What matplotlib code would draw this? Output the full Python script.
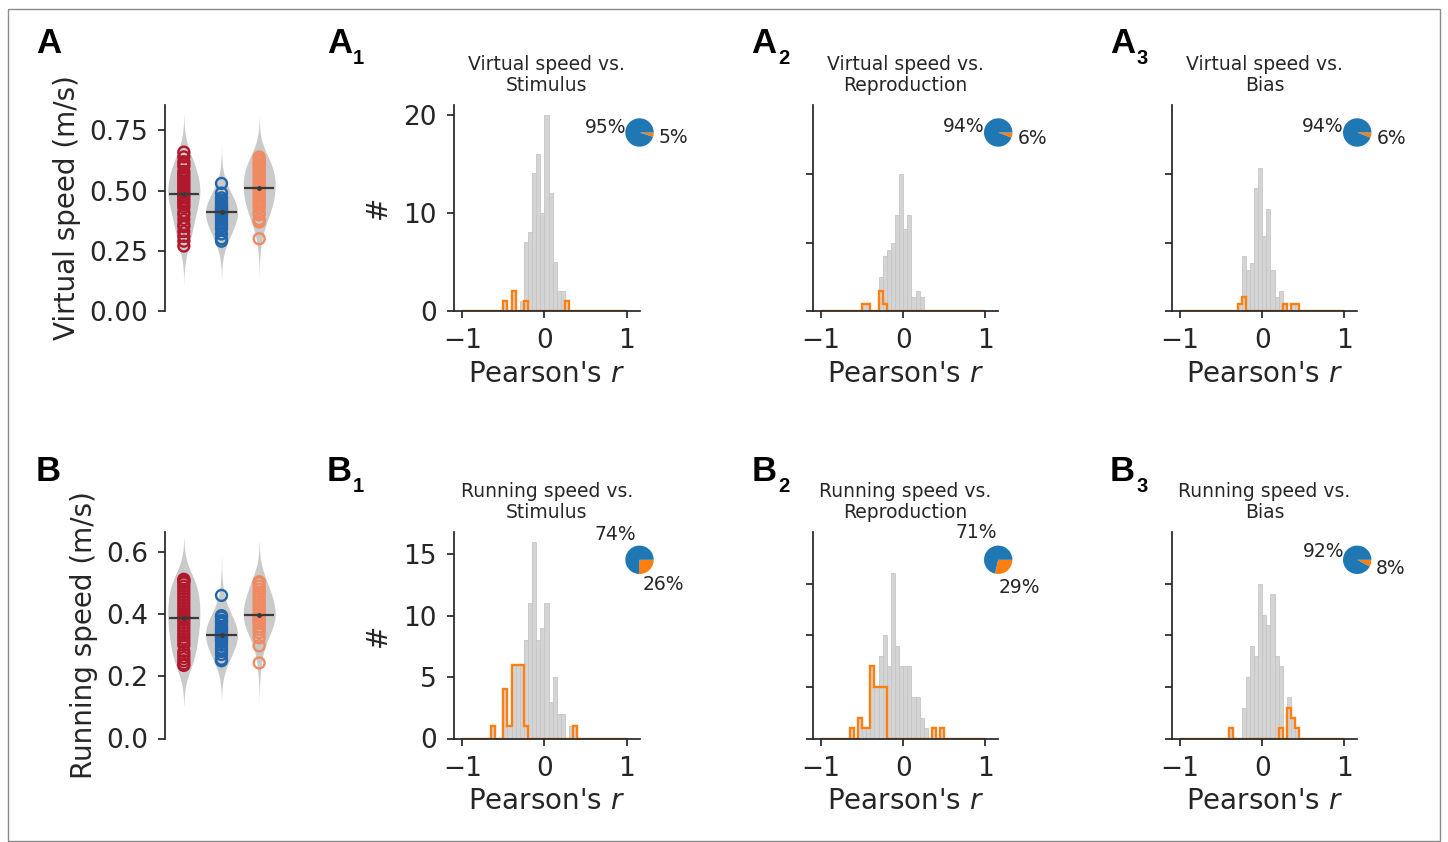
import numpy as np
import matplotlib
matplotlib.use('Agg')
import matplotlib.pyplot as plt
from matplotlib.patches import Rectangle

W, H = 1448, 842
plt.rcParams['font.family'] = 'DejaVu Sans'
plt.rcParams['text.color'] = '#262626'
plt.rcParams['axes.labelcolor'] = '#262626'
plt.rcParams['xtick.color'] = '#262626'
plt.rcParams['ytick.color'] = '#262626'
plt.rcParams['axes.edgecolor'] = '#262626'

# speeds per condition (m/s)
virtual_red = [0.27, 0.29, 0.31, 0.33, 0.35, 0.36, 0.38, 0.40, 0.41, 0.43, 0.44, 0.45, 0.46, 0.47, 0.48, 0.485,
               0.49, 0.50, 0.51, 0.52, 0.53, 0.54, 0.55, 0.56, 0.57, 0.58, 0.60, 0.61, 0.62, 0.64, 0.66]
virtual_blue = [0.29, 0.30, 0.32, 0.34, 0.35, 0.36, 0.37, 0.38, 0.39, 0.40, 0.405, 0.41, 0.415, 0.42, 0.425,
                0.43, 0.435, 0.44, 0.45, 0.46, 0.47, 0.49, 0.53]
virtual_orange = [0.30, 0.37, 0.38, 0.40, 0.41, 0.43, 0.44, 0.45, 0.46, 0.47, 0.48, 0.49, 0.50, 0.51, 0.52,
                  0.53, 0.54, 0.55, 0.56, 0.57, 0.58, 0.59, 0.60, 0.61, 0.62, 0.63, 0.64]
running_red = [0.235, 0.24, 0.25, 0.26, 0.27, 0.28, 0.30, 0.31, 0.32, 0.33, 0.34, 0.35, 0.36, 0.37, 0.38, 0.388,
               0.39, 0.40, 0.41, 0.42, 0.43, 0.44, 0.45, 0.46, 0.47, 0.48, 0.49, 0.50, 0.505, 0.51, 0.512]
running_blue = [0.25, 0.255, 0.27, 0.28, 0.29, 0.30, 0.31, 0.315, 0.32, 0.325, 0.33, 0.333, 0.34, 0.345, 0.35,
                0.355, 0.36, 0.37, 0.375, 0.38, 0.39, 0.395, 0.46]
running_orange = [0.243, 0.298, 0.324, 0.34, 0.35, 0.36, 0.37, 0.375, 0.38, 0.385, 0.39, 0.395, 0.397, 0.40,
                  0.41, 0.42, 0.43, 0.44, 0.45, 0.46, 0.47, 0.48, 0.49, 0.50, 0.504]
group_colors = ['#b2182b', '#2166ac', '#ef8a62']

# histogram counts of Pearson's r, bin width 0.05; *_start = left edge of first bin
a1_start = -0.5
a1_all = [1, 0, 2, 0, 1, 7, 8, 14, 16, 10, 20, 12, 5, 2, 2, 1]
a1_sig = [1, 0, 2, 0, 0, 1, 0, 0, 0, 0, 0, 0, 0, 0, 0, 1]
a2_start = -0.5
a2_all = [1, 1, 0, 0, 5, 8, 9, 10, 14, 20, 12, 14, 2, 3, 2]
a2_sig = [1, 1, 0, 0, 3, 1, 0, 0, 0, 0, 0, 0, 0, 0, 0]
a3_start = -0.3
a3_all = [1, 8, 6, 7, 18, 21, 11, 15, 6, 2, 3, 1, 0, 1, 1]
a3_sig = [1, 2, 0, 0, 0, 0, 0, 0, 0, 0, 0, 1, 0, 1, 1]
b1_start = -0.65
b1_all = [1, 0, 0, 4, 1, 6, 6, 6, 8, 11, 16, 8, 9, 11, 3, 5, 2, 2, 0, 1, 1]
b1_sig = [1, 0, 0, 4, 1, 6, 6, 6, 1, 0, 0, 0, 0, 0, 0, 0, 0, 0, 0, 0, 1]
b2_start = -0.65
b2_all = [1, 0, 2, 1, 1, 7, 5, 8, 10, 7, 16, 9, 7, 7, 7, 4, 4, 2, 1, 0, 1, 0, 1]
b2_sig = [1, 0, 2, 1, 1, 7, 5, 5, 5, 0, 0, 0, 0, 0, 0, 0, 0, 0, 0, 0, 1, 0, 1]
b3_start = -0.4
b3_all = [1, 0, 0, 3, 6, 9, 8, 15, 12, 11, 14, 8, 7, 0, 4, 2, 1]
b3_sig = [1, 0, 0, 0, 0, 0, 0, 0, 0, 0, 0, 0, 1, 0, 3, 2, 1]

titles_a = ['Virtual speed vs.\nStimulus', 'Virtual speed vs.\nReproduction', 'Virtual speed vs.\nBias']
titles_b = ['Running speed vs.\nStimulus', 'Running speed vs.\nReproduction', 'Running speed vs.\nBias']

edges = np.round(np.linspace(-1, 1, 41), 3)


def full_counts(start, counts):
    out = np.zeros(40)
    i0 = int(round((start + 1) / 0.05))
    out[i0:i0 + len(counts)] = counts
    return out


def px_axes(fig, x0, y0, x1, y1):
    return fig.add_axes([x0 / W, 1 - y1 / H, (x1 - x0) / W, (y1 - y0) / H])


def draw_violin(ax, data, pos, color, bw, cut=2.6, width=0.85):
    data = np.asarray(data)
    grid = np.linspace(data.min() - cut * bw, data.max() + cut * bw, 300)
    dens = np.exp(-0.5 * ((grid[:, None] - data[None, :]) / bw) ** 2).sum(axis=1)
    dens = dens / dens.max() * width / 2
    ax.fill_betweenx(grid, pos - dens, pos + dens, color='#cacaca', lw=0, zorder=1)
    ax.scatter(np.full(len(data), pos), data, s=62, facecolors='none', edgecolors=color,
               linewidths=1.7, zorder=3)
    med = np.median(data)
    ax.hlines(med, pos - 0.4, pos + 0.4, color='#3a3a3a', lw=1.6, zorder=4)
    ax.plot(pos, med, 'o', ms=2.5, color='#3a3a3a', zorder=5)


def style_axes(ax):
    ax.spines['top'].set_visible(False)
    ax.spines['right'].set_visible(False)
    for s in ['left', 'bottom']:
        ax.spines[s].set_linewidth(1.25)
    ax.tick_params(labelsize=19, length=5.3, width=1.25, pad=7)


fig = plt.figure(figsize=(W / 100, H / 100), dpi=100)

# frame round the figure
fig.patches.append(Rectangle((8 / W, 1 - 841 / H), 1432 / W, 832 / H, transform=fig.transFigure,
                             fill=False, edgecolor='#8a8a8a', lw=1))

rows = [
    dict(top=104.7, bottom=311.0, groups=[virtual_red, virtual_blue, virtual_orange],
         ylim=0.857, yticks=[0, 0.25, 0.5, 0.75], yfmt='%.2f', ylabel='Virtual speed (m/s)',
         hists=[(a1_start, a1_all, a1_sig), (a2_start, a2_all, a2_sig), (a3_start, a3_all, a3_sig)],
         hylim=[21, 30.2, 30.2], hticks=[0, 10, 20], titles=titles_a, letter='A', bw=0.062),
    dict(top=532.0, bottom=738.5, groups=[running_red, running_blue, running_orange],
         ylim=0.664, yticks=[0, 0.2, 0.4, 0.6], yfmt='%.1f', ylabel='Running speed (m/s)',
         hists=[(b1_start, b1_all, b1_sig), (b2_start, b2_all, b2_sig), (b3_start, b3_all, b3_sig)],
         hylim=[16.8, 20, 20], hticks=[0, 5, 10, 15], titles=titles_b, letter='B', bw=0.05),
]

hist_left = [454.0, 812.7, 1171.7]
hist_width = 185.5
letter_x = [326.7, 751.5, 1110.0]

for row in rows:
    top, bot = row['top'], row['bottom']

    # violins
    ax = px_axes(fig, 165, top, 278, bot)
    for i, (d, c) in enumerate(zip(row['groups'], group_colors)):
        draw_violin(ax, d, i, c, row['bw'])
    ax.set_xlim(-0.5, 2.5)
    ax.set_ylim(0, row['ylim'])
    ax.set_yticks(row['yticks'])
    ax.set_yticklabels([row['yfmt'] % v for v in row['yticks']])
    style_axes(ax)
    ax.spines['bottom'].set_visible(False)
    ax.set_xticks([])
    ax.set_ylabel(row['ylabel'], fontsize=20, labelpad=6)

    fig.text(36 / W, 1 - (top - 51.4) / H, row['letter'], fontsize=25, fontweight='bold',
             family='Liberation Sans', color='black', ha='left', va='baseline')

    for j, (start, all_c, sig_c) in enumerate(row['hists']):
        x0 = hist_left[j]
        ax = px_axes(fig, x0, top, x0 + hist_width, bot)
        counts = full_counts(start, all_c)
        sig = full_counts(start, sig_c)
        ax.bar(edges[:-1], counts, width=0.05, align='edge', color='#d4d4d4',
               edgecolor='#c6c6c6', linewidth=0.6, zorder=1)
        ax.stairs(sig, edges, color='#ff7f0e', lw=1.7, zorder=2)
        ax.set_xlim(-1.1, 1.155)
        ax.set_ylim(0, row['hylim'][j])
        ax.set_xticks([-1, 0, 1])
        ax.set_yticks(row['hticks'])
        style_axes(ax)
        ax.set_xlabel("Pearson's $r$", fontsize=20, labelpad=4)
        if j == 0:
            ax.set_ylabel('#', fontsize=20, labelpad=8)
        else:
            ax.set_yticklabels([])
        ax.set_title(row['titles'][j], fontsize=13.5, pad=10, linespacing=1.15)

        # share of significant correlations
        n_sig = sig.sum()
        n_rest = counts.sum() - n_sig
        r = 14.2
        cx = x0 + hist_width
        cy = top + 27.8
        pax = px_axes(fig, cx - 1.25 * r, cy - 1.25 * r, cx + 1.25 * r, cy + 1.25 * r)
        pax.pie([n_sig, n_rest], colors=['#ff7f0e', '#1f77b4'], startangle=0, counterclock=False,
                autopct=lambda p: '%.0f%%' % p, pctdistance=2.45,
                textprops=dict(fontsize=13.5, color='#262626'), wedgeprops=dict(linewidth=0))

        lx = letter_x[j]
        fig.text(lx / W, 1 - (top - 51.4) / H, row['letter'], fontsize=25, fontweight='bold',
                 family='Liberation Sans', color='black', ha='left', va='baseline')
        fig.text((lx + 26.5) / W, 1 - (top - 40.5) / H, str(j + 1), fontsize=14.5, fontweight='bold',
                 family='Liberation Sans', color='black', ha='left', va='baseline')

fig.savefig('out.png', dpi=100)
